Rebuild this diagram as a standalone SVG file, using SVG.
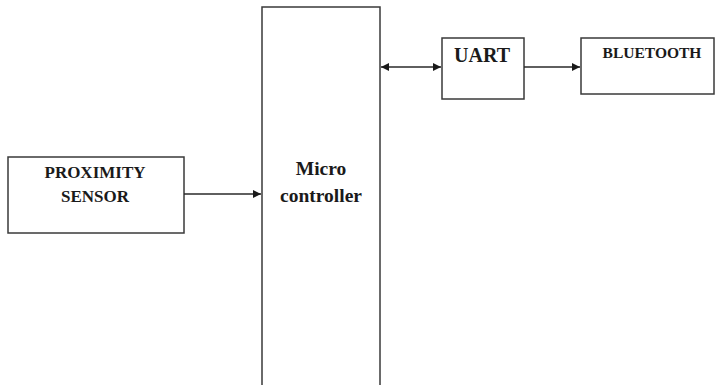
<svg xmlns="http://www.w3.org/2000/svg" width="715" height="385" viewBox="0 0 715 385">
  <defs>
    <style>
      .box { fill: #ffffff; stroke: #3a3a3a; stroke-width: 1.5; }
      .wire { fill: none; stroke: #2a2a2a; stroke-width: 1.3; }
    </style>
    <marker id="head" viewBox="0 0 10 10" refX="10" refY="5" markerWidth="8" markerHeight="8" markerUnits="userSpaceOnUse" orient="auto-start-reverse">
      <path d="M0,0 L10,5 L0,10 z" fill="#1a1a1a"/>
    </marker>
  </defs>
  <rect width="715" height="385" fill="#ffffff"/>

  <!-- labels: 24px base size scaled to fit each box -->
  <g fill="#1a1a1a" text-anchor="middle">
    <g id="proximity-sensor">
      <rect class="box" x="8" y="157" width="176" height="76"/>
      <text x="0" y="0" font-family="Liberation Serif" font-weight="bold" font-size="24" transform="translate(95 178) scale(0.708)">PROXIMITY</text>
      <text x="0" y="0" font-family="Liberation Serif" font-weight="bold" font-size="24" transform="translate(95 202) scale(0.708)">SENSOR</text>
    </g>

    <g id="microcontroller">
      <rect class="box" x="262" y="7" width="118" height="390"/>
      <text x="0" y="0" font-family="Liberation Serif" font-weight="bold" font-size="24" transform="translate(321 175) scale(0.8125)">Micro</text>
      <text x="0" y="0" font-family="Liberation Serif" font-weight="bold" font-size="24" transform="translate(321 202) scale(0.8125)">controller</text>
    </g>

    <g id="uart">
      <rect class="box" x="442" y="38" width="82" height="61"/>
      <text x="0" y="0" font-family="Liberation Serif" font-weight="bold" font-size="16" transform="translate(482 62) scale(1.25)">UART</text>
    </g>

    <g id="bluetooth">
      <rect class="box" x="581" y="38" width="133" height="56"/>
      <text x="0" y="0" font-family="Liberation Serif" font-weight="bold" font-size="16" transform="translate(652 58) scale(0.97)">BLUETOOTH</text>
    </g>
  </g>

  <g id="connectors">
    <line class="wire" x1="184" y1="194" x2="261" y2="194" marker-end="url(#head)"/>
    <line class="wire" x1="381" y1="67" x2="441" y2="67" marker-start="url(#head)" marker-end="url(#head)"/>
    <line class="wire" x1="524" y1="67" x2="580" y2="67" marker-end="url(#head)"/>
  </g>
</svg>
